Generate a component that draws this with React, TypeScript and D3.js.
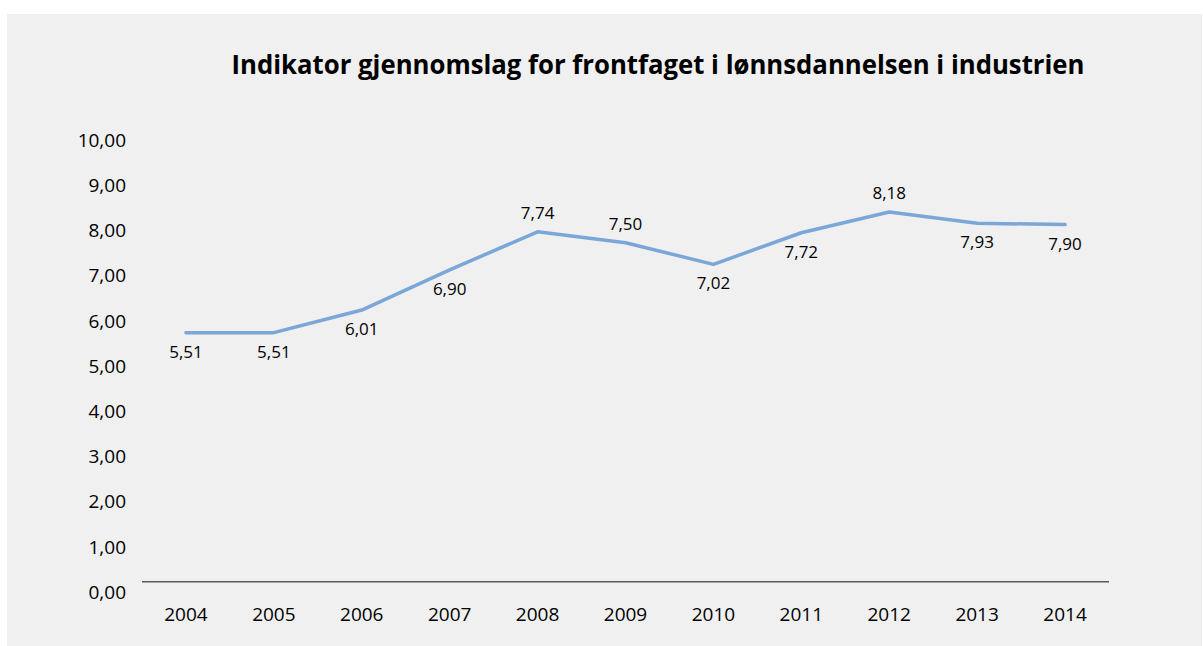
import React from "react";
import * as d3 from "d3";

const years = ["2004", "2005", "2006", "2007", "2008", "2009", "2010", "2011", "2012", "2013", "2014"];
const values = [5.51, 5.51, 6.01, 6.9, 7.74, 7.5, 7.02, 7.72, 8.18, 7.93, 7.9];
const labelAbove = [false, false, false, false, true, true, false, false, true, false, false];
const yTicks = [0, 1, 2, 3, 4, 5, 6, 7, 8, 9, 10];
const title = "Indikator gjennomslag for frontfaget i lønnsdannelsen i industrien";

const W = 1203;
const H = 646;
const FONT = "'Open Sans', 'Noto Sans', sans-serif";

export default function App() {
  const x = d3.scaleBand<string>().domain(years).range([142, 1109]);
  const y = d3.scaleLinear().domain([0, 10]).range([581.7, 129.7]);
  const line = d3
    .line<number>()
    .x((_, i) => (x(years[i]) as number) + x.bandwidth() / 2)
    .y((d) => y(d));
  const fmt = (v: number) => v.toFixed(2).replace(".", ",");

  return (
    <svg width={W} height={H} style={{ position: "absolute", left: 0, top: 0 }} fontFamily={FONT}>
      <rect x={0} y={0} width={W} height={H} fill="#ffffff" />
      <rect x={7} y={14} width={1195} height={632} fill="#f0f0f0" />
      <text x={658} y={73.5} textAnchor="middle" fontSize={27} fontWeight="bold" fill="#000" textLength={853} lengthAdjust="spacingAndGlyphs">
        {title}
      </text>
      {yTicks.map((t) => (
        <text key={t} x={126} y={y(t) + 17} textAnchor="end" fontSize={19} fill="#000">
          {fmt(t)}
        </text>
      ))}
      <line x1={142} x2={1109} y1={y(0)} y2={y(0)} stroke="#595959" strokeWidth={1.5} />
      {years.map((yr) => (
        <text key={yr} x={(x(yr) as number) + x.bandwidth() / 2} y={621} textAnchor="middle" fontSize={19} fill="#000">
          {yr}
        </text>
      ))}
      <path d={line(values) || ""} fill="none" stroke="#7aa6d8" strokeWidth={3.5} strokeLinejoin="round" strokeLinecap="round" />
      {values.map((v, i) => (
        <text
          key={i}
          x={(x(years[i]) as number) + x.bandwidth() / 2}
          y={labelAbove[i] ? y(v) - 13 : y(v) + 25}
          textAnchor="middle"
          fontSize={17}
          fill="#000"
        >
          {fmt(v)}
        </text>
      ))}
    </svg>
  );
}
